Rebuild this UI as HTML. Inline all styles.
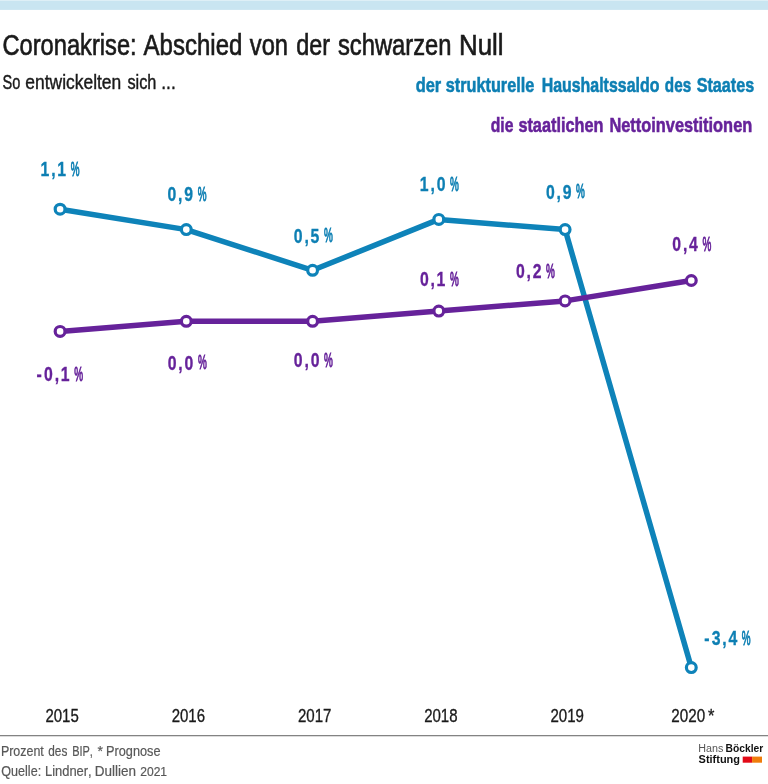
<!DOCTYPE html>
<html lang="de">
<head>
<meta charset="utf-8">
<title>Coronakrise: Abschied von der schwarzen Null</title>
<style>
html,body{margin:0;padding:0;background:#fff;}
body{width:768px;height:784px;overflow:hidden;}
svg{display:block;}
text{font-family:"Liberation Sans",sans-serif;font-kerning:none;}
.t{fill:#1a1a1a;stroke:#1a1a1a;stroke-width:0.3;vector-effect:non-scaling-stroke;}
.tt{stroke-width:0.6;}
.st{stroke-width:0.4;}
.b{fill:#0d7fb3;font-weight:bold;}
.lgd{stroke-width:0.5;vector-effect:non-scaling-stroke;}
.b.lgd{stroke:#0d7fb3;}
.p.lgd{stroke:#66229a;}
.p{fill:#66229a;font-weight:bold;}
.g{fill:#585858;stroke:#585858;stroke-width:0.2;vector-effect:non-scaling-stroke;}
.pc{font-weight:normal;stroke-width:0.75;vector-effect:non-scaling-stroke;}
.b.pc{stroke:#0d7fb3;}
.dg{stroke-width:0.3;vector-effect:non-scaling-stroke;}
.b.dg{stroke:#0d7fb3;}
.p.dg{stroke:#66229a;}
.p.pc{stroke:#66229a;}
.lg{fill:#555;}
.lb{fill:#111;font-weight:bold;}
</style>
</head>
<body>
<svg width="768" height="784" viewBox="0 0 768 784">
<rect x="0" y="0" width="768" height="784" fill="#ffffff"/>
<rect x="0" y="0.4" width="768" height="9.5" fill="#c9e5f1"/>
<text class="t tt" font-size="29.2" transform="translate(2.45,54.8) scale(0.8111,1)">Coronakrise:</text>
<text class="t tt" font-size="29.2" transform="translate(143.60,54.8) scale(0.8225,1)">Abschied</text>
<text class="t tt" font-size="29.2" transform="translate(249.82,54.8) scale(0.8107,1)">von</text>
<text class="t tt" font-size="29.2" transform="translate(296.17,54.8) scale(0.8014,1)">der</text>
<text class="t tt" font-size="29.2" transform="translate(337.99,54.8) scale(0.8140,1)">schwarzen</text>
<text class="t tt" font-size="29.2" transform="translate(459.03,54.8) scale(0.8857,1)">Null</text>
<text class="t st" font-size="20.7" transform="translate(2.44,88.9) scale(0.7040,1)">So</text>
<text class="t st" font-size="20.7" transform="translate(25.36,88.9) scale(0.8421,1)">entwickelten</text>
<text class="t st" font-size="20.7" transform="translate(127.40,88.9) scale(0.7896,1)">sich</text>
<text class="t st" font-size="20.7" transform="translate(161.26,88.9) scale(0.8387,1)">...</text>
<text class="b lgd" font-size="20.5" transform="translate(415.63,91.6) scale(0.8000,1)">der</text>
<text class="b lgd" font-size="20.5" transform="translate(445.73,91.6) scale(0.7938,1)">strukturelle</text>
<text class="b lgd" font-size="20.5" transform="translate(541.63,91.6) scale(0.7774,1)">Haushaltssaldo</text>
<text class="b lgd" font-size="20.5" transform="translate(664.87,91.6) scale(0.7461,1)">des</text>
<text class="b lgd" font-size="20.5" transform="translate(696.63,91.6) scale(0.7895,1)">Staates</text>
<text class="p lgd" font-size="20.5" transform="translate(490.81,131.7) scale(0.7640,1)">die</text>
<text class="p lgd" font-size="20.5" transform="translate(518.38,131.7) scale(0.7954,1)">staatlichen</text>
<text class="p lgd" font-size="20.5" transform="translate(609.40,131.7) scale(0.7992,1)">Nettoinvestitionen</text>
<polyline points="60.1,209.2 186.3,229.6 312.6,270.3 438.8,219.4 565.1,229.6 691.3,667.6" fill="none" stroke="#0e83b9" stroke-width="5.5" stroke-linejoin="round" stroke-linecap="round"/>
<polyline points="60.1,331.4 186.3,321.3 312.6,321.3 438.8,311.1 565.1,300.9 691.3,280.5" fill="none" stroke="#66229a" stroke-width="5.5" stroke-linejoin="round" stroke-linecap="round"/>
<g fill="#fff" stroke="#0e83b9" stroke-width="3.2"><circle cx="60.1" cy="209.2" r="4.9"/><circle cx="186.3" cy="229.6" r="4.9"/><circle cx="312.6" cy="270.3" r="4.9"/><circle cx="438.8" cy="219.4" r="4.9"/><circle cx="565.1" cy="229.6" r="4.9"/><circle cx="691.3" cy="667.6" r="4.9"/></g>
<g fill="#fff" stroke="#66229a" stroke-width="3.2"><circle cx="60.1" cy="331.4" r="4.9"/><circle cx="186.3" cy="321.3" r="4.9"/><circle cx="312.6" cy="321.3" r="4.9"/><circle cx="438.8" cy="311.1" r="4.9"/><circle cx="565.1" cy="300.9" r="4.9"/><circle cx="691.3" cy="280.5" r="4.9"/></g>
<text class="b dg" font-size="20" transform="translate(40.44,176.2) scale(0.7885,1)" x="0.00 13.78 21.31">1,1</text>
<text class="b pc" font-size="20.6" transform="translate(70.85,175.9) scale(0.4808,1)">%</text>
<text class="b dg" font-size="20" transform="translate(167.53,200.8) scale(0.7885,1)" x="0.00 13.41 21.32">0,9</text>
<text class="b pc" font-size="20.6" transform="translate(197.65,200.5) scale(0.4808,1)">%</text>
<text class="b dg" font-size="20" transform="translate(293.83,242.7) scale(0.7885,1)" x="0.00 13.41 21.26">0,5</text>
<text class="b pc" font-size="20.6" transform="translate(323.95,242.4) scale(0.4808,1)">%</text>
<text class="b dg" font-size="20" transform="translate(419.64,191.1) scale(0.7885,1)" x="0.00 13.78 21.67">1,0</text>
<text class="b pc" font-size="20.6" transform="translate(450.05,190.8) scale(0.4808,1)">%</text>
<text class="b dg" font-size="20" transform="translate(545.93,198.7) scale(0.7885,1)" x="0.00 13.41 21.32">0,9</text>
<text class="b pc" font-size="20.6" transform="translate(576.05,198.4) scale(0.4808,1)">%</text>
<text class="b dg" font-size="20" transform="translate(704.18,644.9) scale(0.7885,1)" x="0.00 9.69 22.98 30.76">-3,4</text>
<text class="b pc" font-size="20.6" transform="translate(741.85,644.6) scale(0.4808,1)">%</text>
<text class="p dg" font-size="20" transform="translate(36.58,381.1) scale(0.7885,1)" x="0.00 9.57 22.98 30.51">-0,1</text>
<text class="p pc" font-size="20.6" transform="translate(74.25,380.8) scale(0.4808,1)">%</text>
<text class="p dg" font-size="20" transform="translate(167.78,369.6) scale(0.7885,1)" x="0.00 13.41 21.31">0,0</text>
<text class="p pc" font-size="20.6" transform="translate(197.90,369.3) scale(0.4808,1)">%</text>
<text class="p dg" font-size="20" transform="translate(293.83,366.9) scale(0.7885,1)" x="0.00 13.41 21.31">0,0</text>
<text class="p pc" font-size="20.6" transform="translate(323.95,366.6) scale(0.4808,1)">%</text>
<text class="p dg" font-size="20" transform="translate(419.93,285.9) scale(0.7885,1)" x="0.00 13.41 20.94">0,1</text>
<text class="p pc" font-size="20.6" transform="translate(450.05,285.6) scale(0.4808,1)">%</text>
<text class="p dg" font-size="20" transform="translate(515.93,278.15) scale(0.7885,1)" x="0.00 13.41 21.35">0,2</text>
<text class="p pc" font-size="20.6" transform="translate(546.05,277.85) scale(0.4808,1)">%</text>
<text class="p dg" font-size="20" transform="translate(672.33,251.2) scale(0.7885,1)" x="0.00 13.41 21.19">0,4</text>
<text class="p pc" font-size="20.6" transform="translate(702.45,250.9) scale(0.4808,1)">%</text>
<text class="t" font-size="18.6" transform="translate(45.45,721.8) scale(0.8068,1)">2015</text>
<text class="t" font-size="18.6" transform="translate(171.68,721.8) scale(0.8076,1)">2016</text>
<text class="t" font-size="18.6" transform="translate(297.92,721.8) scale(0.8100,1)">2017</text>
<text class="t" font-size="18.6" transform="translate(424.16,721.8) scale(0.8074,1)">2018</text>
<text class="t" font-size="18.6" transform="translate(550.40,721.8) scale(0.8089,1)">2019</text>
<text class="t" font-size="18.6" transform="translate(671.33,721.8) scale(0.8183,1)">2020</text>
<text class="t" font-size="18.6" transform="translate(708.03,721.8) scale(0.8875,1)">*</text>
<rect x="0" y="735" width="768" height="1.28" fill="#838383"/>
<text class="g" font-size="15.5" transform="translate(0.88,755.5) scale(0.8043,1)">Prozent</text>
<text class="g" font-size="15.5" transform="translate(48.25,755.5) scale(0.7633,1)">des</text>
<text class="g" font-size="15.5" transform="translate(72.20,755.5) scale(0.7061,1)">BIP,</text>
<text class="g" font-size="15.5" transform="translate(97.52,755.5) scale(0.9025,1)">*</text>
<text class="g" font-size="15.5" transform="translate(106.06,755.5) scale(0.8215,1)">Prognose</text>
<text class="g" font-size="15.5" transform="translate(1.30,776) scale(0.8113,1)">Quelle:</text>
<text class="g" font-size="15.5" transform="translate(44.94,776) scale(0.8360,1)">Lindner,</text>
<text class="g" font-size="15.5" transform="translate(94.79,776) scale(0.8724,1)">Dullien</text>
<text class="g" font-size="12.6" transform="translate(140.29,776) scale(0.9559,1)">2021</text>
<text class="lg" font-size="11" transform="translate(698.22,752) scale(0.9762,1)">Hans</text>
<text class="lb" font-size="11" transform="translate(725.51,752) scale(0.9353,1)">Böckler</text>
<text class="lb" font-size="11.3" transform="translate(698.58,762.7) scale(0.9714,1)">Stiftung</text>
<rect x="742.7" y="756.6" width="9.5" height="6.1" fill="#e20a17"/>
<rect x="752.1" y="756.6" width="9.9" height="6.1" fill="#ef7d0b"/>
</svg>
</body>
</html>
